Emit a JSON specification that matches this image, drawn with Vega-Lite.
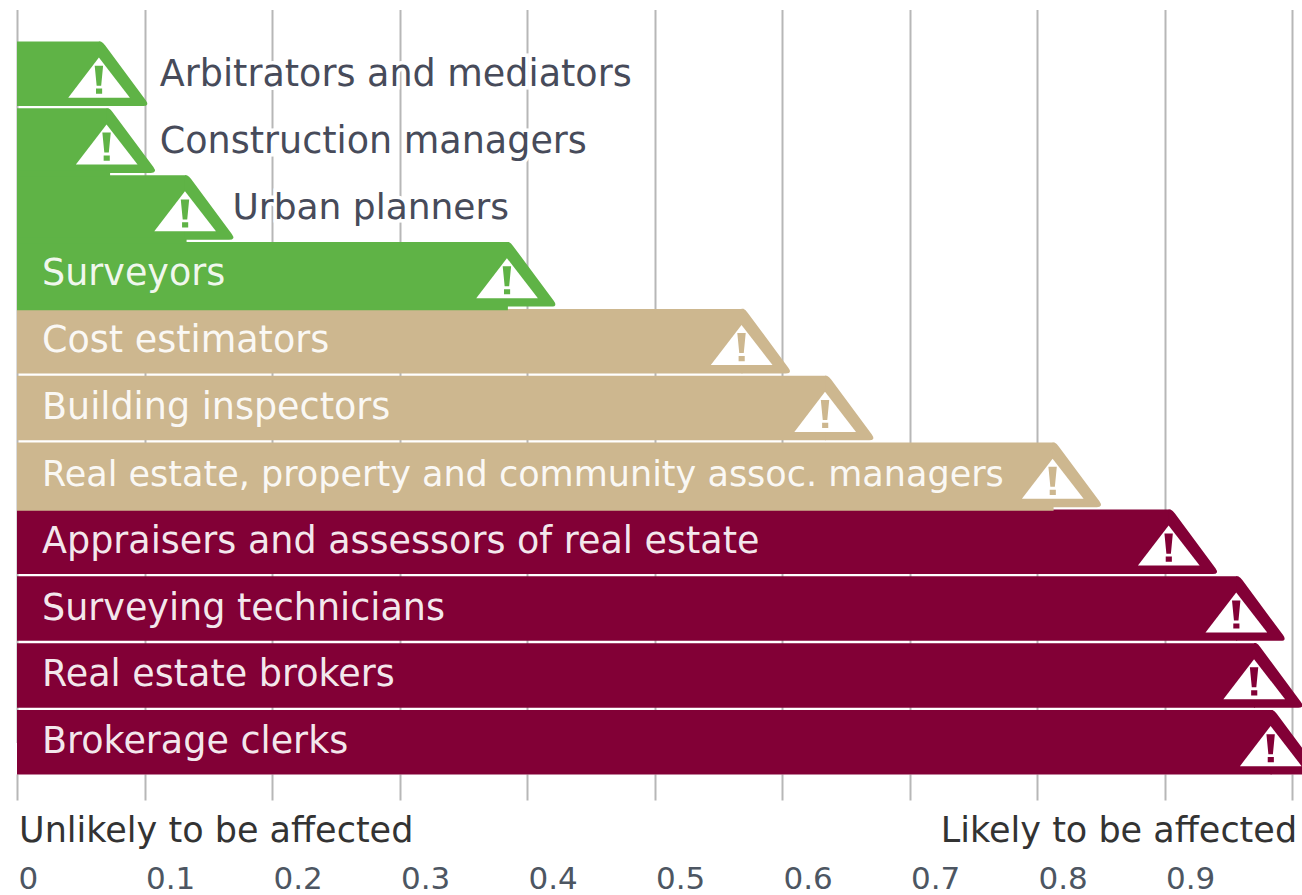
{
"$schema":"https://vega.github.io/schema/vega-lite/v6.json",
"width":1275,"height":764,
"autosize":{"type":"none"},
"padding":{"left":17,"top":10,"right":10,"bottom":121},
"background":"white",
"config":{"view":{"stroke":null},"font":"DejaVu Sans"},
"datasets":{
"jobs":[
{"job":"Arbitrators and mediators","risk":0.065,"risk_band":"low","placement":"outside"},
{"job":"Construction managers","risk":0.071,"risk_band":"low","placement":"outside"},
{"job":"Urban planners","risk":0.1325,"risk_band":"low","placement":"outside"},
{"job":"Surveyors","risk":0.385,"risk_band":"low","placement":"inside"},
{"job":"Cost estimators","risk":0.569,"risk_band":"medium","placement":"inside"},
{"job":"Building inspectors","risk":0.6345,"risk_band":"medium","placement":"inside"},
{"job":"Real estate, property and community assoc. managers","risk":0.813,"risk_band":"medium","placement":"inside"},
{"job":"Appraisers and assessors of real estate","risk":0.904,"risk_band":"high","placement":"inside"},
{"job":"Surveying technicians","risk":0.957,"risk_band":"high","placement":"inside"},
{"job":"Real estate brokers","risk":0.971,"risk_band":"high","placement":"inside"},
{"job":"Brokerage clerks","risk":0.984,"risk_band":"high","placement":"inside"}
],
"joins":[
{"job":"Construction managers","risk_band":"low","join":0.073},
{"job":"Urban planners","risk_band":"low","join":0.133},
{"job":"Surveyors","risk_band":"low","join":0.385},
{"job":"Real estate, property and community assoc. managers","risk_band":"medium","join":0.813}
]
},
"data":{"name":"jobs"},
"encoding":{
"y":{"field":"job","type":"nominal","axis":null,
"scale":{"domain":["Arbitrators and mediators","Construction managers","Urban planners","Surveyors","Cost estimators","Building inspectors","Real estate, property and community assoc. managers","Appraisers and assessors of real estate","Surveying technicians","Real estate brokers","Brokerage clerks"],"range":[31.5,764.5],"paddingInner":0.035,"paddingOuter":0}}
},
"layer":[
{"transform":[{"filter":"datum.job=='Arbitrators and mediators'||datum.job=='Construction managers'"}],
 "mark":{"type":"text","align":"left","baseline":"middle","fontSize":36.5,"dy":1,"stroke":"white","strokeWidth":7,"fill":"white"},
 "encoding":{"x":{"datum":0.112,"type":"quantitative","scale":{"domain":[0,1],"nice":false},
   "axis":{"values":[0,0.1,0.2,0.3,0.4,0.5,0.6,0.7,0.8,0.9,1],"labelExpr":"datum.value>=1?'':(datum.value==0?'0':format(datum.value,'.1f'))","title":null,"domain":false,"grid":true,"gridColor":"#b7b7b7","gridWidth":2,"tickColor":"#b7b7b7","tickWidth":2,"tickSize":26,"labelAlign":"left","labelBaseline":"top","labelPadding":64,"labelFontSize":31,"labelColor":"#4d5662","labelFlush":false,"labelOverlap":false,"labelOffset":1}},
  "text":{"field":"job"}}},
{"transform":[{"filter":"datum.job=='Urban planners'"}],
 "mark":{"type":"text","align":"left","baseline":"middle","fontSize":36,"dy":1,"stroke":"white","strokeWidth":7,"fill":"white"},
 "encoding":{"x":{"datum":0.169,"type":"quantitative"},"text":{"field":"job"}}},
{"mark":{"type":"bar","orient":"horizontal"},
 "encoding":{"x":{"field":"risk","type":"quantitative"},"x2":{"datum":0},
  "color":{"field":"risk_band","type":"nominal","legend":null,"scale":{"domain":["low","medium","high"],"range":["#5fb346","#cdb78f","#820036"]}}}},
{"data":{"name":"joins"},
 "mark":{"type":"bar","orient":"horizontal","height":6,"yOffset":33},
 "encoding":{"x":{"field":"join","type":"quantitative"},"x2":{"datum":0},"color":{"field":"risk_band","type":"nominal","legend":null}}},
{"mark":{"type":"point","filled":true,"opacity":1,"size":4173,"strokeWidth":0,
  "shape":"M-0.03,-1 L0.03,-1 Q0.1,-0.97 0.16,-0.88 L1.42,0.82 Q1.55,1 1.34,1 L-0.03,1 Z"},
 "encoding":{"x":{"field":"risk","type":"quantitative"},
  "color":{"field":"risk_band","type":"nominal","legend":null}}},
{"mark":{"type":"point","filled":true,"opacity":1,"size":4173,"strokeWidth":0,"color":"white",
  "shape":"M-0.03,-0.5 L0.93,0.74 L-0.98,0.74 Z"},
 "encoding":{"x":{"field":"risk","type":"quantitative"}}},
{"mark":{"type":"point","filled":true,"opacity":1,"size":4173,"strokeWidth":0,
  "shape":"M-0.16,-0.25 L0.1,-0.25 L0.04,0.37 L-0.1,0.37 Z M-0.12,0.46 L0.07,0.46 L0.07,0.62 L-0.12,0.62 Z"},
 "encoding":{"x":{"field":"risk","type":"quantitative"},
  "color":{"field":"risk_band","type":"nominal","legend":null}}},
{"transform":[{"filter":"datum.job=='Arbitrators and mediators'||datum.job=='Construction managers'"}],
 "mark":{"type":"text","align":"left","baseline":"middle","fontSize":36.5,"dy":1,"fill":"#474b5a"},
 "encoding":{"x":{"datum":0.112,"type":"quantitative"},"text":{"field":"job"}}},
{"transform":[{"filter":"datum.job=='Urban planners'"}],
 "mark":{"type":"text","align":"left","baseline":"middle","fontSize":36,"dy":1,"fill":"#474b5a"},
 "encoding":{"x":{"datum":0.169,"type":"quantitative"},"text":{"field":"job"}}},
{"transform":[{"filter":"datum.placement=='inside'&&datum.job!='Real estate, property and community assoc. managers'"}],
 "mark":{"type":"text","align":"left","baseline":"middle","fontSize":36.5,"fill":"white","fillOpacity":0.92},
 "encoding":{"x":{"datum":0.0196,"type":"quantitative"},"text":{"field":"job"}}},
{"transform":[{"filter":"datum.job=='Real estate, property and community assoc. managers'"}],
 "mark":{"type":"text","align":"left","baseline":"middle","fontSize":35,"fill":"white","fillOpacity":0.92},
 "encoding":{"x":{"datum":0.0196,"type":"quantitative"},"text":{"field":"job"}}},
{"data":{"values":[{"job":"Brokerage clerks","caption":"Unlikely to be affected"}]},
 "mark":{"type":"text","align":"left","baseline":"middle","fontSize":35,"fill":"#333333","dy":89},
 "encoding":{"x":{"datum":0.0016,"type":"quantitative"},"text":{"field":"caption"}}},
{"data":{"values":[{"job":"Brokerage clerks","caption":"Likely to be affected"}]},
 "mark":{"type":"text","align":"right","baseline":"middle","fontSize":35,"fill":"#333333","dy":89},
 "encoding":{"x":{"datum":1.004,"type":"quantitative"},"text":{"field":"caption"}}}
]
}
